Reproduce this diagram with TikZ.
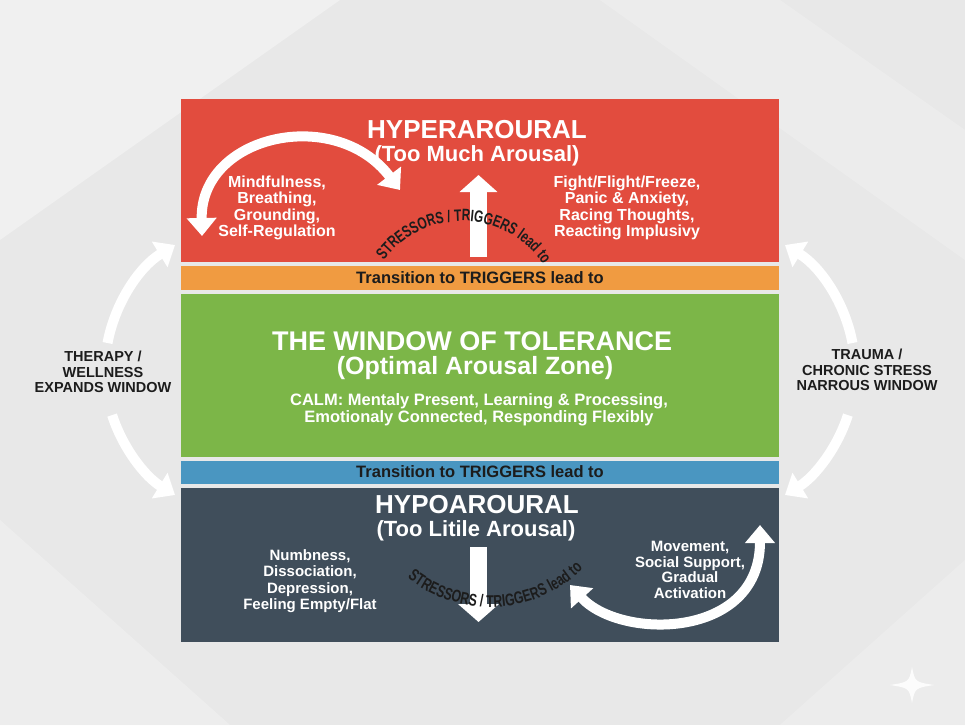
\documentclass[tikz,border=0pt]{standalone}
\usepackage{fontspec}
\setmainfont{Liberation Sans}
\newfontfamily\condfont[FakeStretch=0.72]{Liberation Sans}
\usetikzlibrary{arrows.meta,decorations.text,calc}
\definecolor{bgc}{HTML}{E8E8E8}
\definecolor{bglight}{HTML}{F0F0F0}
\definecolor{redc}{HTML}{E24C3E}
\definecolor{orangec}{HTML}{F09B41}
\definecolor{greenc}{HTML}{7CB648}
\definecolor{bluec}{HTML}{4A96C1}
\definecolor{darkc}{HTML}{404E5B}
\definecolor{txtdark}{HTML}{1C1C1C}
\tikzset{
  panel/.style={inner sep=0pt, outer sep=0pt, draw=none, minimum width=598pt},
  titletxt/.style={text=white, inner sep=0pt, font=\bfseries\fontsize{26}{28}\selectfont},
  subtxt/.style={text=white, inner sep=0pt, font=\bfseries\fontsize{22}{24}\selectfont},
  bodytxt/.style={text=white, inner sep=0pt, align=center, font=\bfseries\fontsize{16}{16.3}\selectfont},
  transtxt/.style={text=txtdark, inner sep=0pt, font=\bfseries\fontsize{16.5}{18}\selectfont},
  sidetxt/.style={text=txtdark, inner sep=0pt, align=center, font=\bfseries\fontsize{14.5}{15.5}\selectfont},
  curvearrow/.style={draw=white, line width=10pt},
  headone/.style={-{Triangle[width=29pt,length=18pt]}},
  headtwo/.style={{Triangle[width=29pt,length=18pt]}-{Triangle[width=29pt,length=18pt]}},
}
\begin{document}
\begin{tikzpicture}[x=1pt,y=-1pt]
\useasboundingbox (0,0) rectangle (965,725);
% background
\fill[bgc] (0,0) rectangle (965,725);
\fill[bglight] (0,0) -- (340,0) -- (0,240) -- cycle;
\fill[bglight,opacity=0.6] (600,0) -- (780,0) -- (965,130) -- (965,260) -- cycle;
\fill[bglight,opacity=0.7] (0,520) -- (0,725) -- (230,725) -- cycle;
\fill[bglight,opacity=0.6] (780,725) -- (965,560) -- (965,725) -- cycle;

% panels
\node[panel, fill=redc,    minimum height=163pt] (hyper) at (480,180.5) {};
\node[panel, fill=orangec, minimum height=24pt]  (transA) at (480,278) {};
\node[panel, fill=greenc,  minimum height=163pt] (window) at (480,375.5) {};
\node[panel, fill=bluec,   minimum height=23pt]  (transB) at (480,472.5) {};
\node[panel, fill=darkc,   minimum height=154pt] (hypo) at (480,565) {};

% hyperarousal content
\node[titletxt] (hyperT) at (477,130) {HYPERAROURAL};
\node[subtxt] (hyperS) at (477,156) {(Too Much Arousal)};
\node[bodytxt] (hyperL) at (277,208) {Mindfulness,\\Breathing,\\Grounding,\\Self-Regulation};
\node[bodytxt] (hyperR) at (627,208) {Fight/Flight/Freeze,\\Panic \& Anxiety,\\Racing Thoughts,\\Reacting Implusivy};

\coordinate (upS) at (478.5,257);
\coordinate (upE) at (478.5,175);
\draw[white, line width=17pt, -{Triangle[width=37pt,length=17pt]}] (upS) -- (upE);

\coordinate (rlA) at (202,236);
\coordinate (rlB) at (400,190);
\draw[curvearrow, headtwo] (rlA) .. controls (200,135) and (335,105) .. (rlB);

\coordinate (tc) at (462,318);
\path[decorate, decoration={text along path, text align=center, text color=txtdark,
  text={|\condfont\bfseries\fontsize{16.5}{16.5}\selectfont|STRESSORS / TRIGGERS lead to}}]
  ($(tc)+(208:97)$) arc[start angle=208, end angle=335, radius=97];

% transitions
\node[transtxt] (transAT) at (480,278) {Transition to TRIGGERS lead to};
\node[transtxt] (transBT) at (480,472) {Transition to TRIGGERS lead to};

% window
\node[text=white, inner sep=0pt, font=\bfseries\fontsize{27}{29}\selectfont] (winT) at (472,341) {THE WINDOW OF TOLERANCE};
\node[text=white, inner sep=0pt, font=\bfseries\fontsize{25}{27}\selectfont] (winS) at (475,368) {(Optimal Arousal Zone)};
\node[text=white, inner sep=0pt, align=center, font=\bfseries\fontsize{16.5}{17}\selectfont] (winB) at (479,410) {CALM: Mentaly Present, Learning \& Processing,\\Emotionaly Connected, Responding Flexibly};

% hypoarousal
\node[titletxt] (hypoT) at (477,505) {HYPOAROURAL};
\node[subtxt] (hypoS) at (476,531) {(Too Litile Arousal)};
\node[text=white, inner sep=0pt, align=center, font=\bfseries\fontsize{15}{16.5}\selectfont] (hypoL) at (310,581) {Numbness,\\Dissociation,\\Depression,\\Feeling Empty/Flat};
\node[text=white, inner sep=0pt, align=center, font=\bfseries\fontsize{15}{15.8}\selectfont] (hypoR) at (690,570) {Movement,\\Social Support,\\Gradual\\Activation};

\coordinate (dnS) at (478.5,547);
\coordinate (dnE) at (478.5,622);
\draw[white, line width=17pt, -{Triangle[width=40pt,length=18pt]}] (dnS) -- (dnE);

\coordinate (brA) at (570,585);
\coordinate (brB) at (760,525);
\draw[curvearrow, headtwo] (brA) .. controls (620,640) and (760,640) .. (brB);

\coordinate (bc) at (490,475);
\path[decorate, decoration={text along path, text align=center, text color=txtdark,
  text={|\condfont\bfseries\fontsize{17}{17}\selectfont|STRESSORS / TRIGGERS lead to}}]
  ($(bc)+(138:132)$) arc[start angle=138, end angle=36, radius=132];

% side arcs
\coordinate (lc) at (251.6,370);
\coordinate (rc) at (708.4,370);
\draw[curvearrow, headone] ($(lc)+(190.6:146.6)$) arc[start angle=190.6, end angle=238.5, radius=146.6];
\draw[curvearrow, headone] ($(lc)+(162.1:146.6)$) arc[start angle=162.1, end angle=121.5, radius=146.6];
\draw[curvearrow, headone] ($(rc)+(-10.6:146.6)$) arc[start angle=-10.6, end angle=-58.5, radius=146.6];
\draw[curvearrow, headone] ($(rc)+(17.9:146.6)$) arc[start angle=17.9, end angle=58.5, radius=146.6];

\node[sidetxt] (leftlab) at (103,372) {THERAPY /\\WELLNESS\\EXPANDS WINDOW};
\node[sidetxt] (rightlab) at (867,370) {TRAUMA /\\CHRONIC STRESS\\NARROUS WINDOW};

% sparkle
\fill[white, opacity=0.85] (912,667) .. controls (915,682) .. (934,685) .. controls (915,688) .. (912,703) .. controls (909,688) .. (890,685) .. controls (909,682) .. cycle;
\end{tikzpicture}
\end{document}
